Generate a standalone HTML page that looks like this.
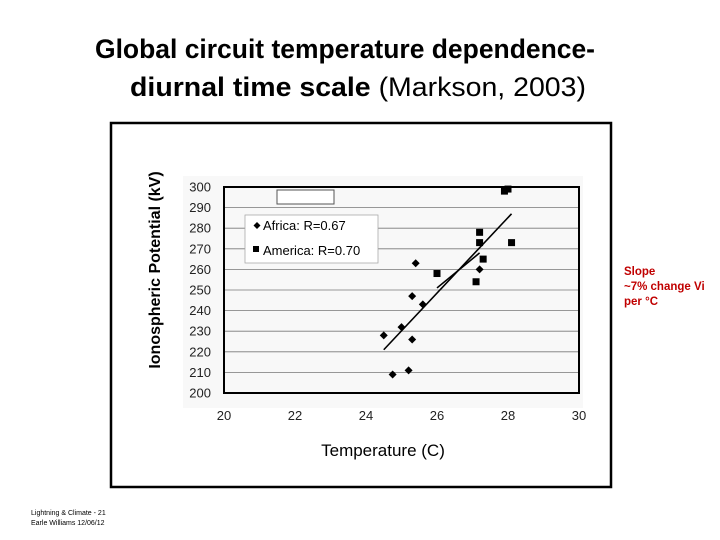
<!DOCTYPE html>
<html><head><meta charset="utf-8"><style>
body{margin:0;background:#fff;font-family:"Liberation Sans",sans-serif}
#wrap{position:relative;width:720px;height:540px;overflow:hidden}
</style></head><body>
<div id="wrap">
<svg width="720" height="540" xmlns="http://www.w3.org/2000/svg" id="chart">
<text x="345" y="58" text-anchor="middle" font-size="26.5" font-weight="bold" font-family="Liberation Sans, sans-serif" textLength="500" lengthAdjust="spacingAndGlyphs">Global circuit temperature dependence-</text>
<text x="358" y="96" text-anchor="middle" font-size="26.5" font-family="Liberation Sans, sans-serif" textLength="456" lengthAdjust="spacingAndGlyphs"><tspan font-weight="bold">diurnal time scale</tspan> (Markson, 2003)</text>
<rect x="111" y="123" width="500" height="364" fill="none" stroke="#000" stroke-width="2.5"/>
<rect x="183" y="176" width="400" height="232" fill="#f8f8f8"/>
<g id="grid"></g>
<g id="ticks"></g>
<g id="marks"></g>
<rect x="224" y="187" width="355" height="206" fill="none" stroke="#000" stroke-width="2"/>
<rect x="277" y="190" width="57" height="14" fill="#fff" stroke="#555" stroke-width="1"/>
<g>
<rect x="245" y="215" width="133" height="48" fill="#fff" stroke="#aaa" stroke-width="0.8"/>
<path d="M257 222 l3.5 3.5 l-3.5 3.5 l-3.5 -3.5z" fill="#000"/>
<text x="263" y="230" font-size="13">Africa: R=0.67</text>
<rect x="253" y="246" width="6" height="6" fill="#000"/>
<text x="263" y="255" font-size="13">America: R=0.70</text>
</g>
<text transform="translate(160,270) rotate(-90)" text-anchor="middle" font-size="16" font-weight="bold">Ionospheric Potential (kV)</text>
<text x="383" y="456" text-anchor="middle" font-size="17">Temperature  (C)</text>
<text x="624" y="275" font-size="11.5" font-weight="bold" fill="#c00000"><tspan x="624">Slope</tspan><tspan x="624" dy="15">~7% change Vi</tspan><tspan x="624" dy="15">per °C</tspan></text>
<text x="31" y="515" font-size="7">Lightning &amp; Climate - 21</text>
<text x="31" y="525" font-size="7">Earle Williams 12/06/12</text>
</svg>
</div>
<script>
const xTicks=[20,22,24,26,28,30];
const yTicks=[200,210,220,230,240,250,260,270,280,290,300];
const africaX=[24.5,24.75,25.0,25.2,25.3,25.3,25.4,25.6,27.2];
const africaY=[228,209,232,211,247,226,263,243,260];
const americaX=[26.0,27.1,27.2,27.2,27.3,27.9,28.0,28.1];
const americaY=[258,254,278,273,265,298,299,273];
const africaFitX=[24.5,28.1];
const africaFitY=[221,287];
const americaFitX=[26.0,27.2];
const americaFitY=[251,268];
const X=v=>224+(v-20)*35.5;
const Y=v=>393-(v-200)*2.06;
const NS='http://www.w3.org/2000/svg';
function mk(tag,attrs,parent){const e=document.createElementNS(NS,tag);for(const k in attrs)e.setAttribute(k,attrs[k]);document.getElementById(parent).appendChild(e);return e;}
yTicks.forEach(t=>{
 if(t>200&&t<300){const l=mk('line',{x1:224,x2:579,y1:Y(t),y2:Y(t),stroke:'#777','stroke-width':0.8},'grid');
 
 }
 const tx=mk('text',{x:211,y:Y(t)+4.5,'text-anchor':'end','font-size':13,fill:'#222'},'ticks');tx.textContent=t;
 
 
});
xTicks.forEach(t=>{
 const tx=mk('text',{x:X(t),y:420,'text-anchor':'middle','font-size':13,fill:'#222'},'ticks');tx.textContent=t;
 
 
});
function fit(xs,ys,name){const l=mk('line',{x1:X(xs[0]),y1:Y(ys[0]),x2:X(xs[1]),y2:Y(ys[1]),stroke:'#000','stroke-width':1.6},'marks');
 
 }
fit(africaFitX,africaFitY,'africa-trendline');
fit(americaFitX,americaFitY,'america-trendline');
africaX.forEach((x,i)=>{const cx=X(x),cy=Y(africaY[i]);
 const p=mk('path',{d:`M${cx} ${cy-4} L${cx+4} ${cy} L${cx} ${cy+4} L${cx-4} ${cy}Z`,fill:'#000'},'marks');
 
 });
americaX.forEach((x,i)=>{const cx=X(x),cy=Y(americaY[i]);
 const r=mk('rect',{x:cx-3.5,y:cy-3.5,width:7,height:7,fill:'#000'},'marks');
 
 });
</script>
</body></html>
